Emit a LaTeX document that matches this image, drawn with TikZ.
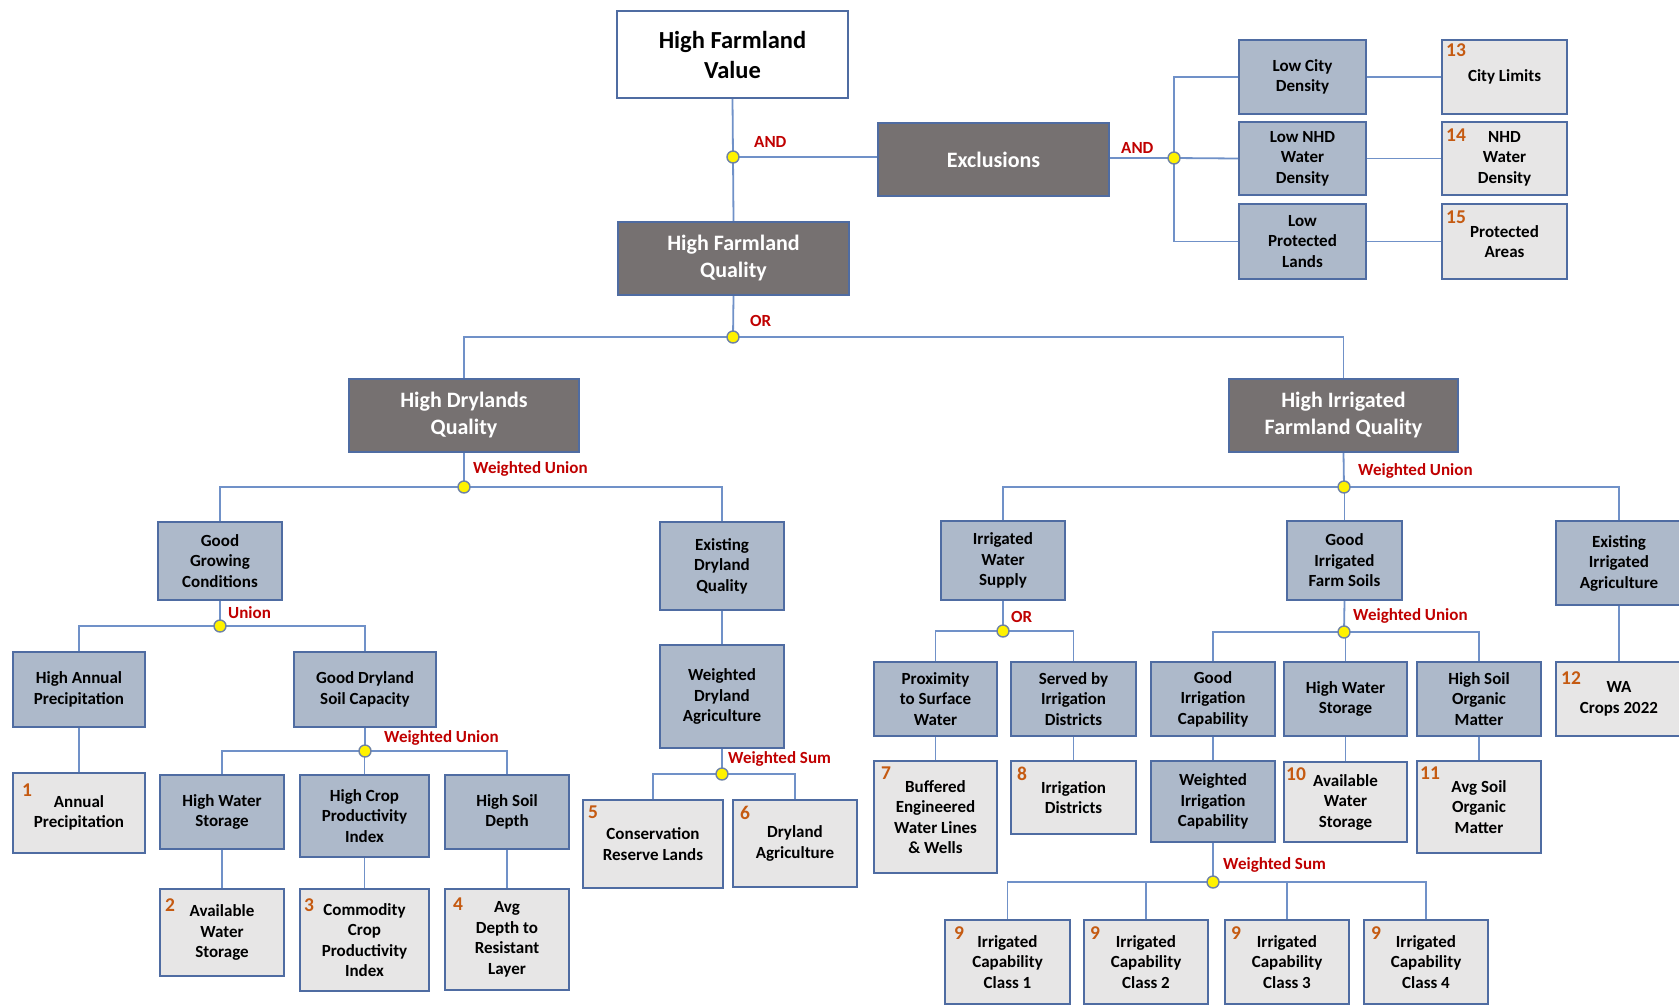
\documentclass[tikz,border=0pt]{standalone}
\usepackage{fontspec}
\setmainfont{Carlito}
\usetikzlibrary{calc}
\definecolor{greyfill}{HTML}{767171}
\definecolor{bluefill}{HTML}{ADB9CA}
\definecolor{lightfill}{HTML}{E7E6E6}
\definecolor{edgecol}{RGB}{79,108,162}
\definecolor{conncol}{RGB}{112,145,200}
\definecolor{lblred}{HTML}{C00000}
\definecolor{numorange}{HTML}{C55A11}
\definecolor{dotedge}{RGB}{110,130,165}
\pgfdeclarelayer{bg}
\pgfsetlayers{bg,main}
\newcommand\mybox[7]{\node[#2, minimum width={#5-#3}, minimum height={#6-#4}] (#1) at ({(#3+#5)/2},{(#4+#6)/2}) {#7};}
\begin{document}
\begin{tikzpicture}[x=1pt,y=-1pt,
  base/.style={draw=edgecol, line width=1.8pt, inner sep=0pt, align=center, font=\fontsize{17}{20.5}\selectfont\bfseries},
  greybox/.style={base, fill=greyfill, text=white, font=\fontsize{22}{27}\selectfont\bfseries},
  whitebox/.style={base, fill=white, font=\fontsize{24.5}{30}\selectfont\bfseries},
  bluebox/.style={base, fill=bluefill},
  lightbox/.style={base, fill=lightfill},
  num/.style={anchor=north west, inner sep=0pt, text=numorange, font=\fontsize{19.5}{22}\selectfont\bfseries},
  lbl/.style={anchor=west, inner sep=0pt, text=lblred, font=\fontsize{17}{20}\selectfont\bfseries},
  dot/.style={circle, draw=dotedge, line width=1.4pt, fill=yellow, minimum size=12pt, inner sep=0pt},
  conn/.style={draw=conncol, line width=1.8pt}]
\useasboundingbox (0,0) rectangle (1679,1005);
% boxes
\mybox{hfv}{whitebox}{617}{11}{848}{98}{High Farmland\\Value}
\mybox{hfq}{greybox}{618}{222}{849}{295}{High Farmland\\Quality}
\mybox{excl}{greybox}{878}{123}{1109}{196}{Exclusions}
\mybox{lcity}{bluebox}{1239}{40}{1366}{114}{Low City\\Density}
\mybox{lnhd}{bluebox}{1239}{122}{1366}{195}{Low NHD\\Water\\Density}
\mybox{lprot}{bluebox}{1239}{204}{1366}{279}{Low\\Protected\\Lands}
\mybox{b13}{lightbox}{1442}{40}{1567}{114}{City Limits}
\mybox{b14}{lightbox}{1442}{122}{1567}{195}{NHD\\Water\\Density}
\mybox{b15}{lightbox}{1442}{204}{1567}{279}{Protected\\Areas}
\mybox{hdq}{greybox}{349}{379}{579}{452}{High Drylands\\Quality}
\mybox{hifq}{greybox}{1229}{379}{1458}{452}{High Irrigated\\Farmland Quality}
\mybox{ggc}{bluebox}{158}{522}{282}{600}{Good\\Growing\\Conditions}
\mybox{edq}{bluebox}{660}{522}{784}{610}{Existing\\Dryland\\Quality}
\mybox{iws}{bluebox}{941}{521}{1065}{600}{Irrigated\\Water\\Supply}
\mybox{gifs}{bluebox}{1287}{521}{1402}{600}{Good\\Irrigated\\Farm Soils}
\mybox{eia}{bluebox}{1556}{521}{1682}{605}{Existing\\Irrigated\\Agriculture}
\mybox{hap}{bluebox}{13}{652}{145}{727}{High Annual\\Precipitation}
\mybox{gdsc}{bluebox}{294}{652}{436}{727}{Good Dryland\\Soil Capacity}
\mybox{wda}{bluebox}{660}{645}{784}{748}{Weighted\\Dryland\\Agriculture}
\mybox{prox}{bluebox}{874}{662}{997}{736}{Proximity\\to Surface\\Water}
\mybox{served}{bluebox}{1011}{662}{1136}{736}{Served by\\Irrigation\\Districts}
\mybox{gic}{bluebox}{1151}{662}{1275}{736}{Good\\Irrigation\\Capability}
\mybox{hwsb}{bluebox}{1284}{662}{1407}{736}{High Water\\Storage}
\mybox{hsom}{bluebox}{1417}{662}{1541}{736}{High Soil\\Organic\\Matter}
\mybox{b12}{lightbox}{1556}{662}{1682}{736}{WA\\Crops 2022}
\mybox{b1}{lightbox}{13}{773}{145}{853}{Annual\\Precipitation}
\mybox{hws}{bluebox}{160}{775}{284}{849}{High Water\\Storage}
\mybox{hcpi}{bluebox}{300}{775}{429}{857}{High Crop\\Productivity\\Index}
\mybox{hsd}{bluebox}{445}{775}{569}{849}{High Soil\\Depth}
\mybox{b5}{lightbox}{583}{800}{723}{888}{Conservation\\Reserve Lands}
\mybox{b6}{lightbox}{733}{800}{857}{887}{Dryland\\Agriculture}
\mybox{b7}{lightbox}{874}{761}{997}{873}{Buffered\\Engineered\\Water Lines\\\& Wells}
\mybox{b8}{lightbox}{1011}{761}{1136}{834}{Irrigation\\Districts}
\mybox{wic}{bluebox}{1151}{761}{1275}{842}{Weighted\\Irrigation\\Capability}
\mybox{b10}{lightbox}{1284}{762}{1407}{842}{Available\\Water\\Storage}
\mybox{b11}{lightbox}{1417}{761}{1541}{853}{Avg Soil\\Organic\\Matter}
\mybox{b2}{lightbox}{160}{889}{284}{976}{Available\\Water\\Storage}
\mybox{b3}{lightbox}{300}{889}{429}{991}{Commodity\\Crop\\Productivity\\Index}
\mybox{b4}{lightbox}{445}{889}{569}{990}{Avg\\Depth to\\Resistant\\Layer}
\mybox{b9a}{lightbox}{945}{920}{1070}{1004}{Irrigated\\Capability\\Class 1}
\mybox{b9b}{lightbox}{1084}{920}{1208}{1004}{Irrigated\\Capability\\Class 2}
\mybox{b9c}{lightbox}{1225}{920}{1349}{1004}{Irrigated\\Capability\\Class 3}
\mybox{b9d}{lightbox}{1364}{920}{1488}{1004}{Irrigated\\Capability\\Class 4}
% numbers
\node[num] (n1) at (22,784) {1};
\node[num] (n2) at (165,898) {2};
\node[num] (n3) at (304,898) {3};
\node[num] (n4) at (453,898) {4};
\node[num] (n5) at (588,806) {5};
\node[num] (n6) at (740,806) {6};
\node[num] (n7) at (881,767) {7};
\node[num] (n8) at (1017,767) {8};
\node[num] (n9a) at (954,926) {9};
\node[num] (n9b) at (1090,926) {9};
\node[num] (n9c) at (1231,926) {9};
\node[num] (n9d) at (1371,926) {9};
\node[num] (n10) at (1286,767) {10};
\node[num] (n11) at (1420,767) {11};
\node[num] (n12) at (1561,671) {12};
\node[num] (n13) at (1446,44) {13};
\node[num] (n14) at (1446,129) {14};
\node[num] (n15) at (1446,211) {15};
% operator labels
\node[lbl] (l1) at (754,142) {AND};
\node[lbl] (l2) at (1121,148) {AND};
\node[lbl] (l3) at (750,321) {OR};
\node[lbl] (l4) at (473,469) {Weighted Union};
\node[lbl] (l5) at (1358,471) {Weighted Union};
\node[lbl] (l6) at (228,613) {Union};
\node[lbl] (l7) at (384,738) {Weighted Union};
\node[lbl] (l8) at (728,759) {Weighted Sum};
\node[lbl] (l9) at (1011,617) {OR};
\node[lbl] (l10) at (1353,616) {Weighted Union};
\node[lbl] (l11) at (1223,865) {Weighted Sum};
% junction dots
\node[dot] (j1) at (733,157) {};
\node[dot] (j2) at (1174,158) {};
\node[dot] (j3) at (733,337) {};
\node[dot] (j4) at (464,487) {};
\node[dot] (j5) at (1344,487) {};
\node[dot] (j6) at (220,626) {};
\node[dot] (j7) at (365,751) {};
\node[dot] (j8) at (722,774) {};
\node[dot] (j9) at (1003,631) {};
\node[dot] (j10) at (1344,632) {};
\node[dot] (j11) at (1213,882) {};
\begin{pgfonlayer}{bg}
\fill[white] (0,0) rectangle (1679,1005);
\draw[conn] (hfv.south) -- (j1.center) -- (hfq.north);
\draw[conn] (j1.center) -- (j1.center -| excl.west);
\draw[conn] (excl.east |- j2.center) -- (j2.center);
\draw[conn] (lcity.west) -| (j2.center) |- (lprot.west);
\draw[conn] (j2.center) -- (lnhd.west);
\draw[conn] (lcity.east) -- (b13.west);
\draw[conn] (lnhd.east) -- (b14.west);
\draw[conn] (lprot.east) -- (b15.west);
\draw[conn] (hfq.south) -- (j3.center);
\draw[conn] (hdq.north) |- (j3.center) -| (hifq.north);
\draw[conn] (hdq.south) -- (j4.center);
\draw[conn] (ggc.north) |- (j4.center) -| (edq.north);
\draw[conn] (hifq.south) -- (j5.center);
\draw[conn] (iws.north) |- (j5.center) -| (eia.north);
\draw[conn] (gifs.north) -- (gifs.north |- j5.center);
\draw[conn] (ggc.south) -- (j6.center);
\draw[conn] (hap.north) |- (j6.center) -| (gdsc.north);
\draw[conn] (hap.south) -- (b1.north);
\draw[conn] (gdsc.south) -- (j7.center);
\draw[conn] (hws.north) |- (j7.center) -| (hsd.north);
\draw[conn] (hcpi.north) -- (hcpi.north |- j7.center);
\draw[conn] (hws.south) -- (b2.north);
\draw[conn] (hcpi.south) -- (b3.north);
\draw[conn] (hsd.south) -- (b4.north);
\draw[conn] (edq.south) -- (wda.north);
\draw[conn] (wda.south) -- (j8.center);
\draw[conn] (b5.north) |- (j8.center) -| (b6.north);
\draw[conn] (iws.south) -- (j9.center);
\draw[conn] (prox.north) |- (j9.center) -| (served.north);
\draw[conn] (prox.south) -- (b7.north);
\draw[conn] (served.south) -- (b8.north);
\draw[conn] (gifs.south) -- (j10.center);
\draw[conn] (gic.north) |- (j10.center) -| (hsom.north);
\draw[conn] (hwsb.north) -- (hwsb.north |- j10.center);
\draw[conn] (gic.south) -- (wic.north);
\draw[conn] (hwsb.south) -- (b10.north);
\draw[conn] (hsom.south) -- (b11.north);
\draw[conn] (wic.south) -- (j11.center);
\draw[conn] (b9a.north) |- (j11.center) -| (b9d.north);
\draw[conn] (b9b.north) -- (b9b.north |- j11.center);
\draw[conn] (b9c.north) -- (b9c.north |- j11.center);
\draw[conn] (eia.south) -- (b12.north);
\end{pgfonlayer}
\end{tikzpicture}
\end{document}
